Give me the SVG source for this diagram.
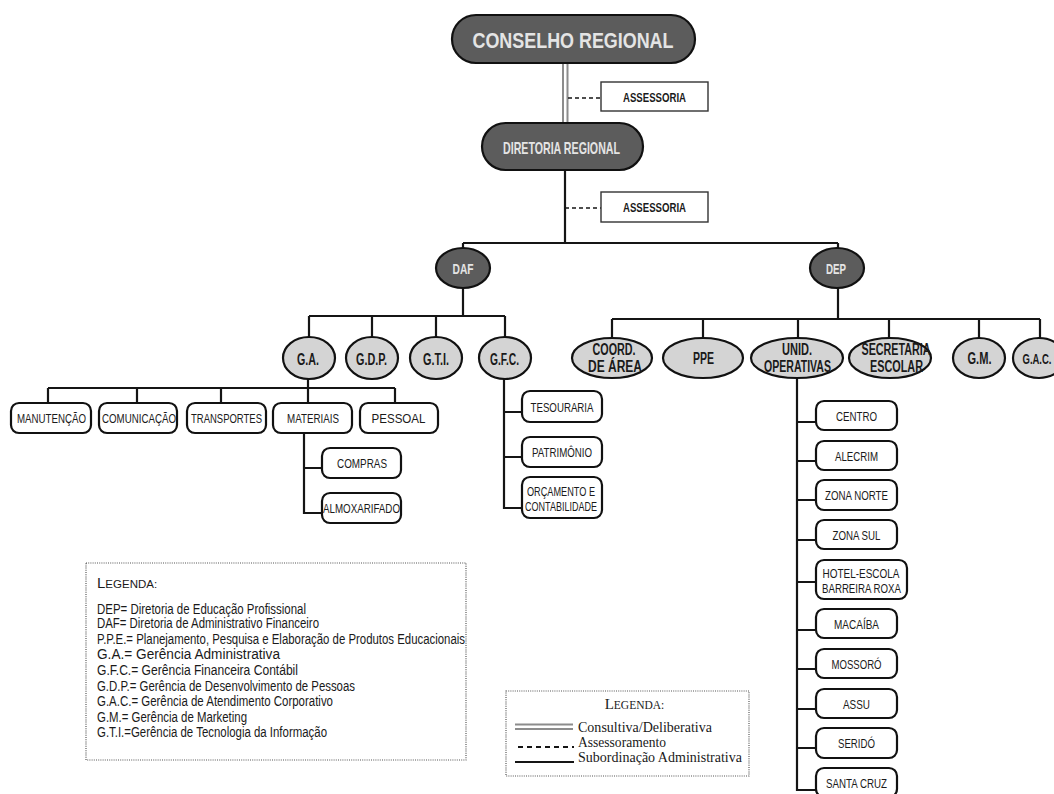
<svg xmlns="http://www.w3.org/2000/svg" width="1054" height="794" viewBox="0 0 1054 794">
<style>
.ln{fill:none;stroke:#151515;stroke-width:2.2}
.ds{fill:none;stroke:#151515;stroke-width:1.6;stroke-dasharray:4 3}
.cons{fill:none;stroke:#8c8c8c;stroke-width:2}
.dark{fill:#5c5c5c;stroke:#111;stroke-width:2.2}
.light{fill:#d4d4d4;stroke:#111;stroke-width:2.2}
.box{fill:#fff;stroke:#111;stroke-width:2.2}
.abox{fill:#fff;stroke:#333;stroke-width:1.4}
.dt{font-family:"Liberation Sans",Arial,sans-serif;font-weight:bold;fill:#e4e4e4;text-anchor:middle}
.nt{font-family:"Liberation Sans",Arial,sans-serif;font-weight:bold;fill:#1a1a1a;text-anchor:middle;font-size:16px}
.bt{font-family:"Liberation Sans",Arial,sans-serif;fill:#1a1a1a;text-anchor:middle;font-size:13px}
.lg{font-family:"Liberation Sans",Arial,sans-serif;fill:#1a1a1a;font-size:14px}
.lgs{font-family:"Liberation Serif","Times New Roman",serif;fill:#1a1a1a;font-size:15px}
.dot{fill:#fff;stroke:#555;stroke-width:1.2;stroke-dasharray:1 1.2}
</style>
<g id="connectors">
<path class="cons" d="M563 63V123M567.5 63V123"/>
<path class="ds" d="M568 98H601M565 208H601"/>
<path class="ln" d="M565 170V243M463 243H838M463 243V248M838 243V248"/>
<path class="ln" d="M463 288V316M309 316H505M309 316V338M372 316V338M436 316V338M505 316V338"/>
<path class="ln" d="M308 379V403M48 388H395M48 388V403M137 388V403M221 388V403M395 388V403"/>
<path class="ln" d="M304 433V513H322M304 468H322"/>
<path class="ln" d="M504 379V508H522M504 412H522M504 457H522"/>
<path class="ln" d="M838 288V319M612 319H1040M612 319V338M703 319V338M798 319V338M889 319V338M979 319V338M1040 319V338"/>
<path class="ln" d="M797 378V790H816M797 422H816M797 461H816M797 500H816M797 540H816M797 582H816M797 630H816M797 669H816M797 709H816M797 748H816"/>
</g>
<g id="conselho"><rect class="dark" x="452" y="15" width="243" height="48" rx="24"/><text class="dt" x="573" y="47.5" font-size="22" textLength="201" lengthAdjust="spacingAndGlyphs">CONSELHO REGIONAL</text></g>
<g id="assessoria1"><rect class="abox" x="601" y="82" width="107" height="29"/><text class="nt" x="654.5" y="102" textLength="63" lengthAdjust="spacingAndGlyphs" style="font-size:13px">ASSESSORIA</text></g>
<g id="diretoria"><rect class="dark" x="482" y="123" width="161" height="47" rx="23.5"/><text class="dt" x="561.5" y="154" font-size="17" textLength="117" lengthAdjust="spacingAndGlyphs">DIRETORIA REGIONAL</text></g>
<g id="assessoria2"><rect class="abox" x="601" y="192" width="107" height="30"/><text class="nt" x="654.5" y="212" textLength="63" lengthAdjust="spacingAndGlyphs" style="font-size:13px">ASSESSORIA</text></g>
<g id="daf"><ellipse class="dark" cx="463" cy="268" rx="27" ry="20"/><text class="dt" x="463" y="273.5" font-size="15" textLength="21" lengthAdjust="spacingAndGlyphs">DAF</text></g>
<g id="dep"><ellipse class="dark" cx="837" cy="268" rx="27" ry="20"/><text class="dt" x="836" y="273.5" font-size="15" textLength="20" lengthAdjust="spacingAndGlyphs">DEP</text></g>
<g id="ga"><ellipse class="light" cx="309" cy="358" rx="26" ry="21"/><text class="nt" x="308" y="364.5" textLength="22" lengthAdjust="spacingAndGlyphs">G.A.</text></g>
<g id="gdp"><ellipse class="light" cx="372" cy="358" rx="26" ry="21"/><text class="nt" x="371.5" y="364.5" textLength="31" lengthAdjust="spacingAndGlyphs">G.D.P.</text></g>
<g id="gti"><ellipse class="light" cx="436" cy="358" rx="26" ry="21"/><text class="nt" x="436" y="364.5" textLength="26" lengthAdjust="spacingAndGlyphs">G.T.I.</text></g>
<g id="gfc"><ellipse class="light" cx="505" cy="358" rx="26" ry="21"/><text class="nt" x="504.5" y="364.5" textLength="29" lengthAdjust="spacingAndGlyphs">G.F.C.</text></g>
<g id="manutencao"><rect class="box" x="11" y="403" width="80" height="30" rx="8"/><text class="bt" x="51.5" y="423" textLength="69" lengthAdjust="spacingAndGlyphs">MANUTENÇÃO</text></g>
<g id="comunicacao"><rect class="box" x="99" y="403" width="78" height="30" rx="8"/><text class="bt" x="139" y="423" textLength="74" lengthAdjust="spacingAndGlyphs">COMUNICAÇÃO</text></g>
<g id="transportes"><rect class="box" x="187" y="403" width="79" height="30" rx="8"/><text class="bt" x="226.5" y="423" textLength="71" lengthAdjust="spacingAndGlyphs">TRANSPORTES</text></g>
<g id="materiais"><rect class="box" x="273" y="403" width="79" height="30" rx="8"/><text class="bt" x="313" y="423" textLength="52" lengthAdjust="spacingAndGlyphs">MATERIAIS</text></g>
<g id="pessoal"><rect class="box" x="360" y="403" width="78" height="30" rx="8"/><text class="bt" x="398.5" y="423" textLength="54" lengthAdjust="spacingAndGlyphs">PESSOAL</text></g>
<g id="compras"><rect class="box" x="322" y="448" width="79" height="30" rx="8"/><text class="bt" x="362" y="468" textLength="50" lengthAdjust="spacingAndGlyphs">COMPRAS</text></g>
<g id="almoxarifado"><rect class="box" x="322" y="493" width="79" height="30" rx="8"/><text class="bt" x="361.5" y="513" textLength="77" lengthAdjust="spacingAndGlyphs">ALMOXARIFADO</text></g>
<g id="tesouraria"><rect class="box" x="522" y="391" width="80" height="31" rx="8"/><text class="bt" x="562" y="411.5" textLength="63" lengthAdjust="spacingAndGlyphs">TESOURARIA</text></g>
<g id="patrimonio"><rect class="box" x="522" y="437" width="80" height="30" rx="8"/><text class="bt" x="562" y="457" textLength="60" lengthAdjust="spacingAndGlyphs">PATRIMÔNIO</text></g>
<g id="orcamento"><rect class="box" x="522" y="477" width="80" height="41" rx="8"/><text class="bt" x="561" y="495.5" textLength="68" lengthAdjust="spacingAndGlyphs">ORÇAMENTO E</text><text class="bt" x="561" y="511" textLength="72" lengthAdjust="spacingAndGlyphs">CONTABILIDADE</text></g>
<g id="coord"><ellipse class="light" cx="612" cy="358" rx="40" ry="20"/><text class="nt" x="614" y="355" textLength="43" lengthAdjust="spacingAndGlyphs">COORD.</text><text class="nt" x="615" y="372" textLength="54" lengthAdjust="spacingAndGlyphs">DE ÁREA</text></g>
<g id="ppe"><ellipse class="light" cx="703" cy="358" rx="40" ry="20"/><text class="nt" x="703.5" y="364" textLength="21" lengthAdjust="spacingAndGlyphs">PPE</text></g>
<g id="unid"><ellipse class="light" cx="797" cy="358" rx="46" ry="20"/><text class="nt" x="797" y="355" textLength="30" lengthAdjust="spacingAndGlyphs">UNID.</text><text class="nt" x="797.5" y="372" textLength="67" lengthAdjust="spacingAndGlyphs">OPERATIVAS</text></g>
<g id="secretaria"><ellipse class="light" cx="890" cy="358" rx="41" ry="20"/><text class="nt" x="896" y="355" textLength="69" lengthAdjust="spacingAndGlyphs">SECRETARIA</text><text class="nt" x="896.5" y="372" textLength="53" lengthAdjust="spacingAndGlyphs">ESCOLAR</text></g>
<g id="gm"><ellipse class="light" cx="979" cy="358" rx="26" ry="20"/><text class="nt" x="979.5" y="364" textLength="24" lengthAdjust="spacingAndGlyphs">G.M.</text></g>
<g id="gac"><ellipse class="light" cx="1039" cy="358" rx="26" ry="20"/><text class="nt" x="1037" y="364" textLength="29" lengthAdjust="spacingAndGlyphs" style="font-size:15px">G.A.C.</text></g>
<g id="centro"><rect class="box" x="816" y="401" width="81" height="29" rx="8"/><text class="bt" x="856.5" y="420.5" textLength="41" lengthAdjust="spacingAndGlyphs">CENTRO</text></g>
<g id="alecrim"><rect class="box" x="816" y="441" width="81" height="29" rx="8"/><text class="bt" x="856.5" y="460.5" textLength="43" lengthAdjust="spacingAndGlyphs">ALECRIM</text></g>
<g id="zonanorte"><rect class="box" x="816" y="480" width="81" height="30" rx="8"/><text class="bt" x="856.5" y="500" textLength="63" lengthAdjust="spacingAndGlyphs">ZONA NORTE</text></g>
<g id="zonasul"><rect class="box" x="816" y="520" width="81" height="29" rx="8"/><text class="bt" x="856.5" y="539.5" textLength="48" lengthAdjust="spacingAndGlyphs">ZONA SUL</text></g>
<g id="hotel"><rect class="box" x="816" y="560" width="91" height="39" rx="8"/><text class="bt" x="861" y="577.5" textLength="77" lengthAdjust="spacingAndGlyphs">HOTEL-ESCOLA</text><text class="bt" x="861.5" y="593" textLength="79" lengthAdjust="spacingAndGlyphs">BARREIRA ROXA</text></g>
<g id="macaiba"><rect class="box" x="816" y="609" width="81" height="29" rx="8"/><text class="bt" x="856.5" y="628.5" textLength="45" lengthAdjust="spacingAndGlyphs">MACAÍBA</text></g>
<g id="mossoro"><rect class="box" x="816" y="649" width="81" height="29" rx="8"/><text class="bt" x="856.5" y="668.5" textLength="50" lengthAdjust="spacingAndGlyphs">MOSSORÓ</text></g>
<g id="assu"><rect class="box" x="816" y="689" width="81" height="29" rx="8"/><text class="bt" x="856.5" y="708.5" textLength="27" lengthAdjust="spacingAndGlyphs">ASSU</text></g>
<g id="serido"><rect class="box" x="816" y="728" width="81" height="30" rx="8"/><text class="bt" x="856.5" y="748" textLength="37" lengthAdjust="spacingAndGlyphs">SERIDÓ</text></g>
<g id="santacruz"><rect class="box" x="816" y="768" width="81" height="29" rx="8"/><text class="bt" x="856.5" y="787.5" textLength="61" lengthAdjust="spacingAndGlyphs">SANTA CRUZ</text></g>
<g id="legenda1">
<rect class="dot" x="86" y="563" width="380" height="197"/>
<text class="lg" x="97" y="588"><tspan font-size="15">L</tspan><tspan font-size="11.5">EGENDA:</tspan></text>
<text class="lg" x="97" y="614" textLength="209" lengthAdjust="spacingAndGlyphs">DEP= Diretoria de Educação Profissional</text>
<text class="lg" x="97" y="628" textLength="222" lengthAdjust="spacingAndGlyphs">DAF= Diretoria de Administrativo Financeiro</text>
<text class="lg" x="97" y="643.5" textLength="368" lengthAdjust="spacingAndGlyphs">P.P.E.= Planejamento, Pesquisa e Elaboração de Produtos Educacionais</text>
<text class="lg" x="97" y="659" textLength="183" lengthAdjust="spacingAndGlyphs">G.A.= Gerência Administrativa</text>
<text class="lg" x="97" y="675" textLength="201" lengthAdjust="spacingAndGlyphs">G.F.C.= Gerência Financeira Contábil</text>
<text class="lg" x="97" y="690.5" textLength="258" lengthAdjust="spacingAndGlyphs">G.D.P.= Gerência de Desenvolvimento de Pessoas</text>
<text class="lg" x="97" y="706" textLength="236" lengthAdjust="spacingAndGlyphs">G.A.C.= Gerência de Atendimento Corporativo</text>
<text class="lg" x="97" y="721.5" textLength="150" lengthAdjust="spacingAndGlyphs">G.M.= Gerência de Marketing</text>
<text class="lg" x="97" y="737" textLength="230" lengthAdjust="spacingAndGlyphs">G.T.I.=Gerência de Tecnologia da Informação</text>
</g>
<g id="legenda2">
<rect class="dot" x="506" y="691" width="243" height="85"/>
<text class="lgs" x="634.5" y="709" text-anchor="middle"><tspan font-size="15">L</tspan><tspan font-size="11.5">EGENDA:</tspan></text>
<path class="cons" d="M515 724.5H573M515 729H573"/>
<path fill="none" stroke="#151515" stroke-width="1.8" stroke-dasharray="5 4" d="M518 747H574"/>
<path fill="none" stroke="#151515" stroke-width="2" d="M515 762H574"/>
<text class="lgs" x="578" y="732" textLength="134" lengthAdjust="spacingAndGlyphs">Consultiva/Deliberativa</text>
<text class="lgs" x="578" y="747" textLength="88" lengthAdjust="spacingAndGlyphs">Assessoramento</text>
<text class="lgs" x="578" y="762" textLength="164" lengthAdjust="spacingAndGlyphs">Subordinação Administrativa</text>
</g>
</svg>
